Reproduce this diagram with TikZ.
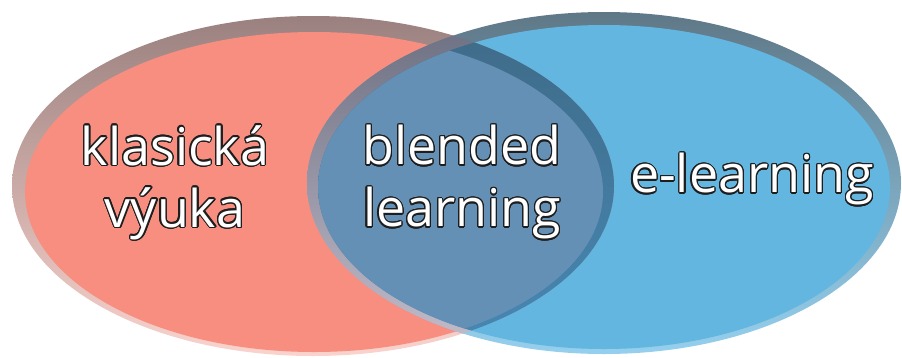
\documentclass[tikz,border=0pt]{standalone}
\usepackage{fontspec}
\setmainfont{Open Sans}
\usepackage{contour}
\contourlength{1.2pt}
\contournumber{20}
\definecolor{redfill}{HTML}{F78E80}
\definecolor{redrimtop}{HTML}{9A817F}
\definecolor{redrimmid}{HTML}{F8C8C0}
\definecolor{redrimbot}{HTML}{FAD3CD}
\definecolor{bluefill}{HTML}{63B6E0}
\definecolor{bluerimtop}{HTML}{5F7887}
\definecolor{bluerimmid}{HTML}{68828F}
\definecolor{bluerimbot}{HTML}{95D0EE}
\definecolor{ovfill}{HTML}{6590B6}
\definecolor{ovbandtop}{HTML}{3F6A86}
\definecolor{ovband}{HTML}{4689B6}
\definecolor{ovrimtop}{HTML}{6A6E80}
\definecolor{ovrim}{HTML}{ADA8BC}
\definecolor{ovrimbot}{HTML}{C4BDCC}
\definecolor{outl}{HTML}{1E1E1E}
\tikzset{
  lbl/.style={align=center, font=\fontsize{52}{62}\selectfont, inner sep=0pt, text=white},
}
\newcommand{\outl}[1]{\contour{outl}{#1}}
\begin{document}
\begin{tikzpicture}[x=1pt,y=-1pt]
\useasboundingbox (0,0) rectangle (902,357);
% left ellipse
\shade[top color=redrimtop, middle color=redrimmid, bottom color=redrimbot] (313,186) ellipse [x radius=301, y radius=170];
\fill[redfill] (314,192) ellipse [x radius=289, y radius=160];
% right ellipse
\shade[top color=bluerimtop, middle color=bluerimmid, bottom color=bluerimbot] (604,183) ellipse [x radius=297, y radius=171];
\fill[bluefill] (604,187) ellipse [x radius=286, y radius=162];
% overlap: right rim over red
\begin{scope}
  \clip (313,186) ellipse [x radius=301, y radius=170];
  \shade[top color=ovrimtop, middle color=ovrim, bottom color=ovrimbot] (604,183) ellipse [x radius=297, y radius=171];
\end{scope}
% overlap: left rim over blue and overlap fill
\begin{scope}
  \clip (604,187) ellipse [x radius=286, y radius=162];
  \shade[top color=ovbandtop, middle color=ovband, bottom color=ovband] (313,186) ellipse [x radius=301, y radius=170];
  \fill[ovfill] (314,192) ellipse [x radius=289, y radius=160];
\end{scope}
% labels
\node[lbl] (klas) at (175,183) {\outl{klasická}\\\outl{výuka}};
\node[lbl] (blend) at (462,183) {\outl{blended}\\\outl{learning}};
\node[lbl] (elearn) at (752,180) {\outl{e-learning}};
\end{tikzpicture}
\end{document}
